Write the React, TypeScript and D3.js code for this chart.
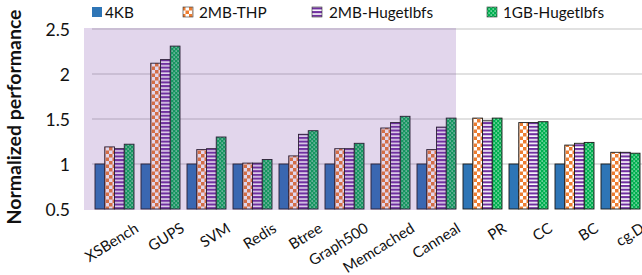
import React from 'react';
import * as d3 from 'd3';

const categories = ['XSBench', 'GUPS', 'SVM', 'Redis', 'Btree', 'Graph500', 'Memcached', 'Canneal', 'PR', 'CC', 'BC', 'cg.D'];
const seriesNames = ['4KB', '2MB-THP', '2MB-Hugetlbfs', '1GB-Hugetlbfs'];
const kb4 = [1, 1, 1, 1, 1, 1, 1, 1, 1, 1, 1, 1];
const thp2mb = [1.19, 2.12, 1.16, 1.01, 1.09, 1.17, 1.40, 1.16, 1.51, 1.46, 1.21, 1.13];
const huge2mb = [1.17, 2.16, 1.17, 1.01, 1.33, 1.17, 1.46, 1.41, 1.48, 1.46, 1.23, 1.13];
const huge1gb = [1.22, 2.31, 1.30, 1.05, 1.37, 1.23, 1.53, 1.51, 1.51, 1.47, 1.24, 1.12];
const yTicks = [0.5, 1, 1.5, 2, 2.5];
const shadedCount = 8; // first eight workloads sit in the shaded block

const series = [kb4, thp2mb, huge2mb, huge1gb];
const fills = ['#2e75b6', 'url(#pThp)', 'url(#pHuge2)', 'url(#pHuge1)'];

const W = 642;
const H = 275;
const FONT = 'Lato, Carlito, sans-serif';

export default function App() {
  const y = d3.scaleLinear().domain([0.5, 2.5]).range([209, 29]);
  const x = d3.scaleBand<string>().domain(categories).range([91.5, 91.5 + 46 * categories.length])
    .paddingInner(7 / 46).paddingOuter(3.5 / 46);
  const xs = d3.scaleBand<number>().domain(d3.range(series.length)).range([0, x.bandwidth()]);

  const shadeX0 = 84;
  const shadeX1 = (x(categories[shadedCount - 1]) as number) + x.bandwidth();

  const legendPos = [[92, 105], [183, 199], [312, 329], [487, 503]];

  return (
    <svg width={W} height={H} style={{ position: 'absolute', left: 0, top: 0, background: '#fff' }} fontFamily={FONT}>
      <defs>
        <pattern id="pThp" patternUnits="userSpaceOnUse" width={7} height={7}>
          <rect width={7} height={7} fill="#fff" />
          <rect width={3.5} height={3.5} fill="#ed7d31" />
          <rect x={3.5} y={3.5} width={3.5} height={3.5} fill="#ed7d31" />
        </pattern>
        <pattern id="pHuge2" patternUnits="userSpaceOnUse" width={4} height={3.7}>
          <rect width={4} height={3.7} fill="#fff" />
          <rect width={4} height={2.1} fill="#7030a0" />
        </pattern>
        <pattern id="pHuge1" patternUnits="userSpaceOnUse" width={4} height={4}>
          <rect width={4} height={4} fill="#00b050" />
          <rect x={0.5} y={0.5} width={1.3} height={1.1} fill="#fff" opacity={0.85} />
          <rect x={2.5} y={2.5} width={1.3} height={1.1} fill="#fff" opacity={0.85} />
        </pattern>
      </defs>

      {/* gridlines */}
      {yTicks.slice(1).map(t => (
        <line key={t} x1={92} x2={W} y1={y(t)} y2={y(t)} stroke="#c4c4c4" strokeWidth={1.2} />
      ))}

      {/* bars */}
      {categories.map((c, i) => (
        <g key={c} transform={`translate(${x(c)},0)`}>
          {series.map((s, j) => (
            <rect key={j} x={xs(j)} y={y(s[i])} width={xs.bandwidth()} height={y(0.5) - y(s[i])}
              fill={fills[j]} stroke="#1a1a1a" strokeWidth={0.9} />
          ))}
        </g>
      ))}

      {/* shaded block */}
      <rect x={shadeX0} y={28} width={shadeX1 - shadeX0} height={182} fill="#7030a0" opacity={0.2} />

      {/* y axis labels */}
      {yTicks.map(t => (
        <text key={t} x={70} y={y(t) + 6.5} textAnchor="end" fontSize={17.5} fill="#111">{t}</text>
      ))}
      <text transform={`translate(21,117) rotate(-90)`} textAnchor="middle" fontSize={19.5} fontWeight="bold" fill="#111">
        Normalized performance
      </text>

      {/* x labels */}
      {categories.map(c => {
        const cx = (x(c) as number) + x.bandwidth() / 2 + 25;
        return (
          <text key={c} transform={`translate(${cx},231) rotate(-32)`} textAnchor="end" fontSize={15} fill="#111">{c}</text>
        );
      })}

      {/* legend */}
      {seriesNames.map((n, j) => (
        <g key={n}>
          <rect x={legendPos[j][0]} y={7} width={10} height={10} fill={fills[j]} stroke={j === 0 ? 'none' : '#333'} strokeWidth={0.6} />
          <text x={legendPos[j][1]} y={17.5} fontSize={15.3} fill="#111">{n}</text>
        </g>
      ))}
    </svg>
  );
}
